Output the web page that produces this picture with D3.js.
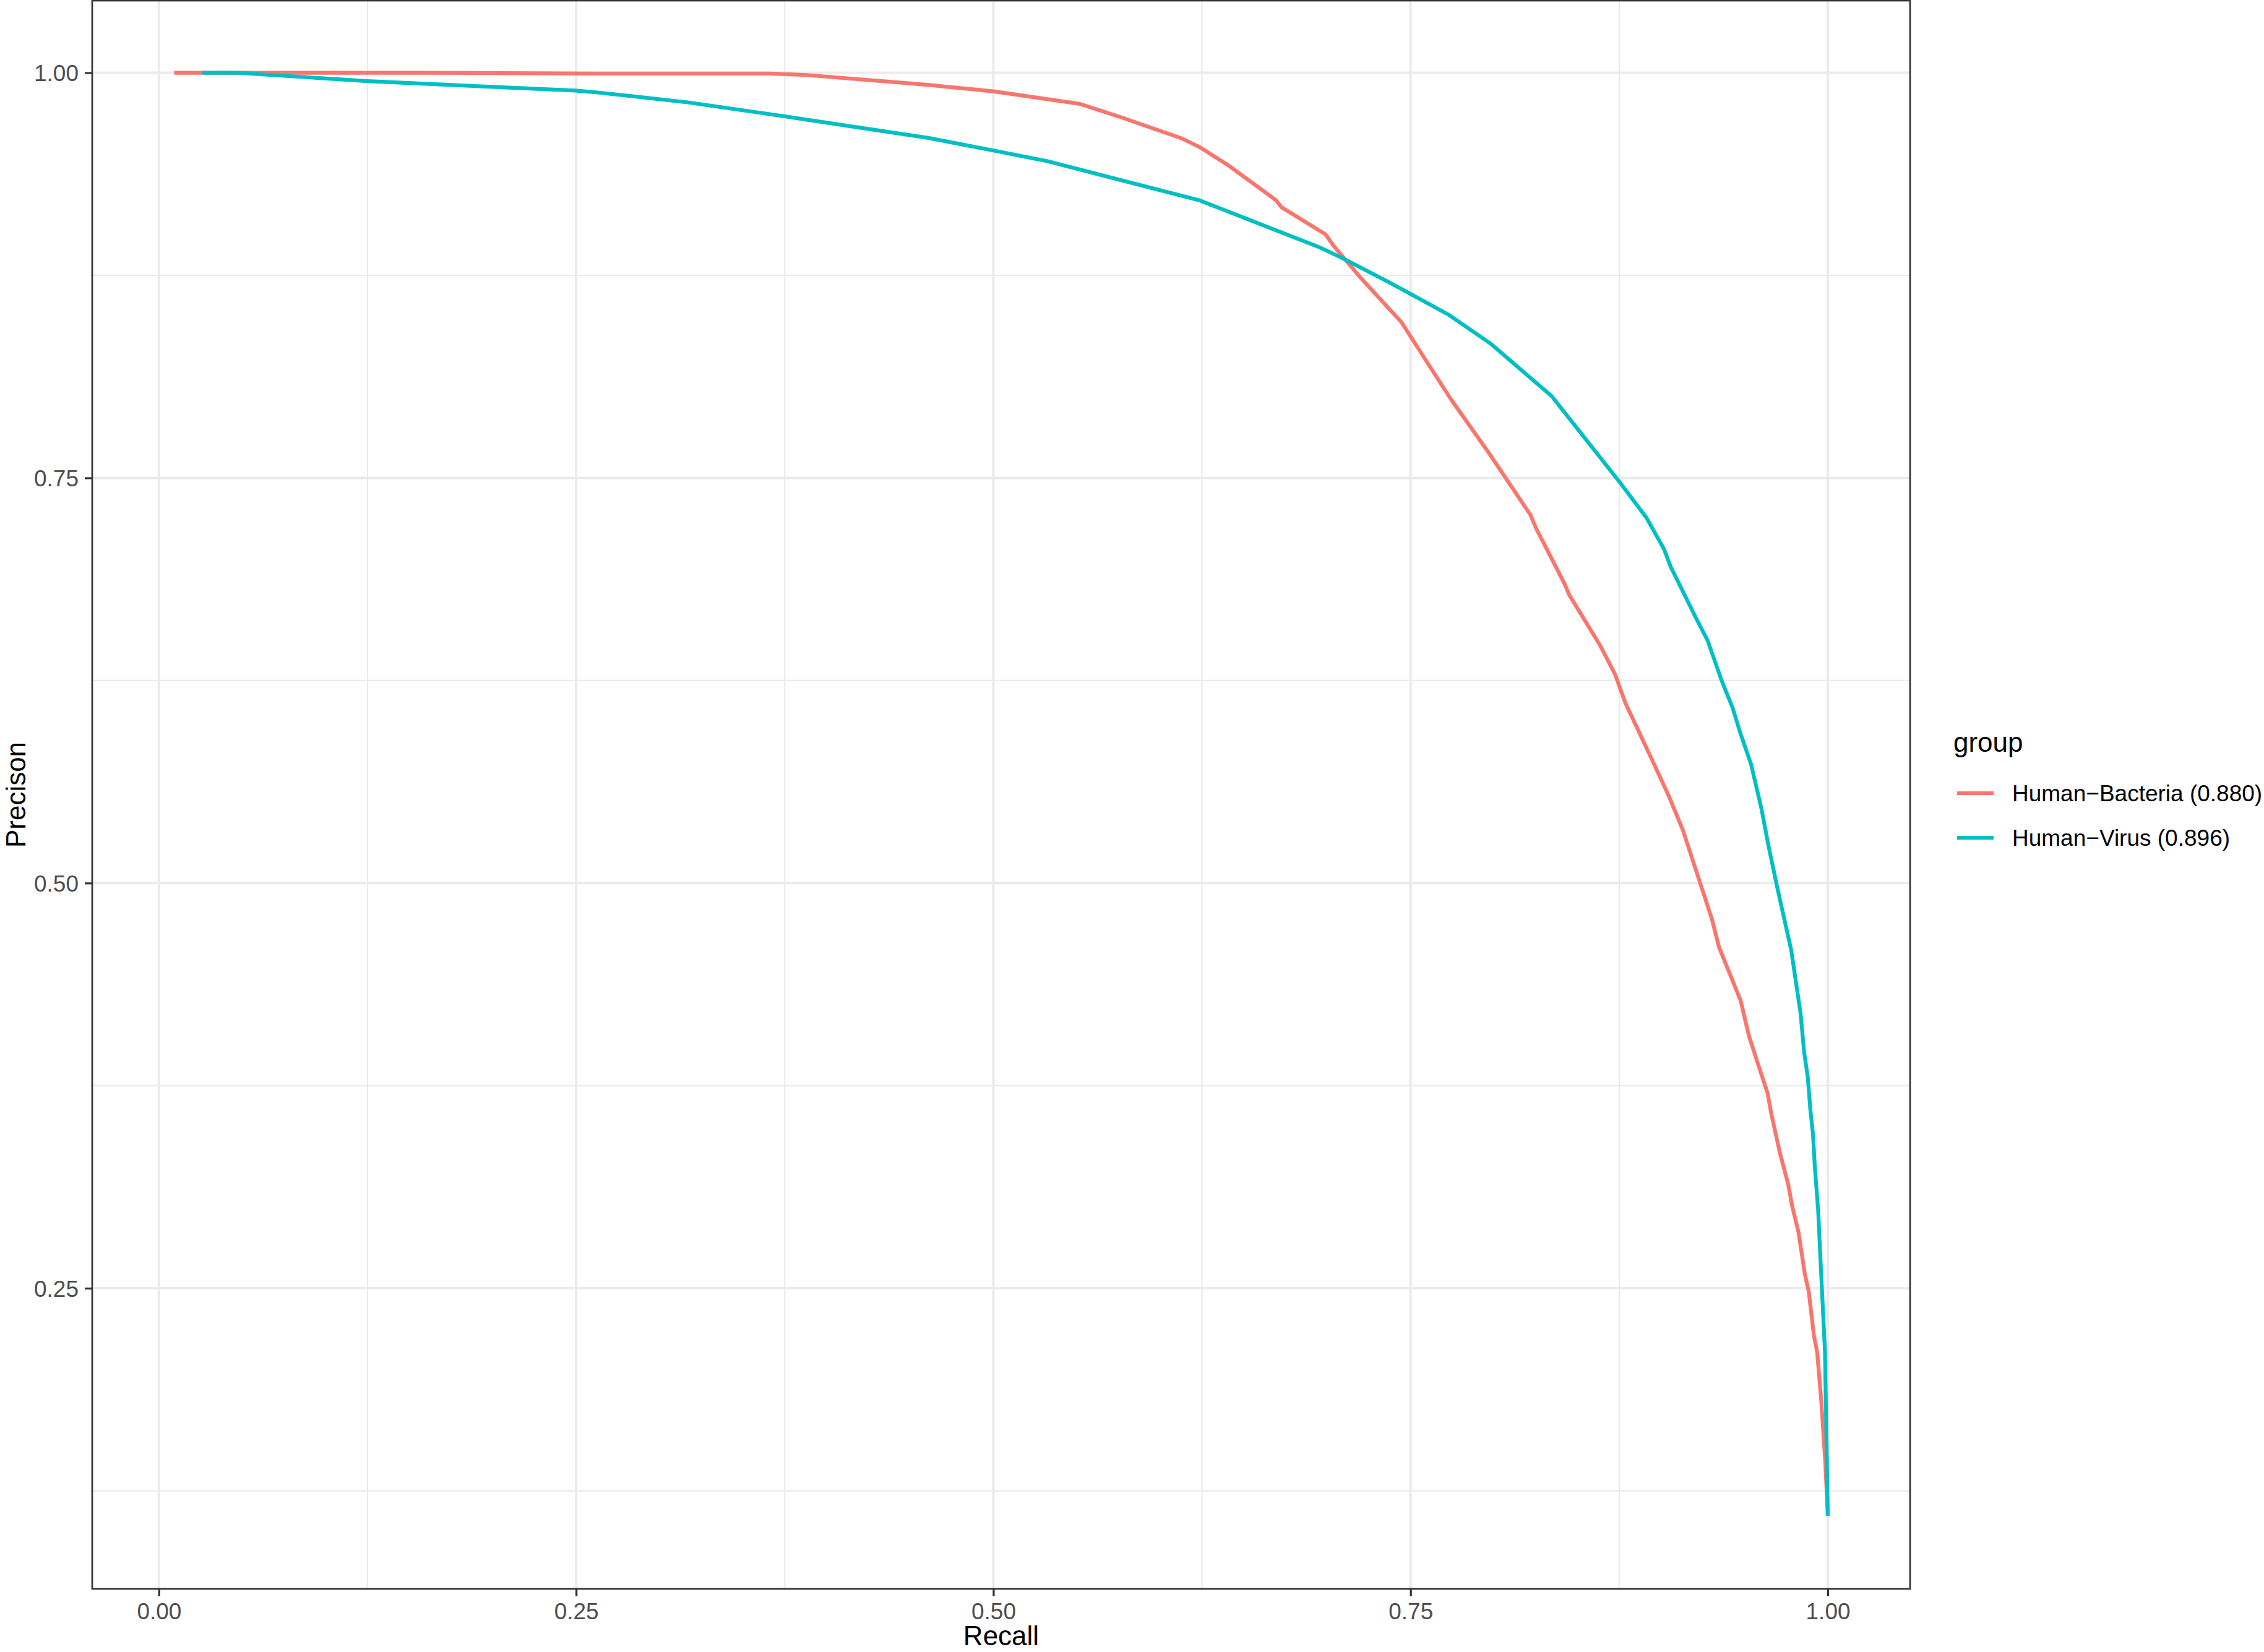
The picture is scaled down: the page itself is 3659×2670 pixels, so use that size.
<!DOCTYPE html>
<html>
<head>
<meta charset="utf-8">
<script src="https://cdn.jsdelivr.net/npm/d3@7"></script>
<style>
  html, body { margin: 0; padding: 0; background: #ffffff; }
  svg { display: block; }
  text { font-family: "Liberation Sans", Arial, Helvetica, sans-serif; }
</style>
</head>
<body>
<svg id="chart" width="3659" height="2670"></svg>
<script>
// ---- Data ----
const groups = ["Human\u2212Bacteria (0.880)", "Human\u2212Virus (0.896)"];
const groupColors = ["#F8766D", "#00BFC4"];

const bacteriaRecall = [0.0091, 0.16, 0.26, 0.366, 0.388, 0.4609, 0.5, 0.5518, 0.5766, 0.6131, 0.6238, 0.6412, 0.6693, 0.6726, 0.6991, 0.7041, 0.7203, 0.7444, 0.7742, 0.7969, 0.8217, 0.8253, 0.8423, 0.8451, 0.8636, 0.8725, 0.8786, 0.8959, 0.9046, 0.9132, 0.9206, 0.9305, 0.9348, 0.9478, 0.9527, 0.9589, 0.9639, 0.9663, 0.9713, 0.9763, 0.9787, 0.9824, 0.9861, 0.9886, 0.9917, 0.9936, 0.996, 0.9985, 1.0];
const bacteriaPrecision = [1.0, 1.0, 0.9995, 0.9995, 0.9986, 0.9925, 0.9885, 0.9808, 0.9725, 0.9594, 0.954, 0.9426, 0.9214, 0.917, 0.9002, 0.8929, 0.8732, 0.8462, 0.7985, 0.7654, 0.7274, 0.7187, 0.6846, 0.6778, 0.6466, 0.6289, 0.6114, 0.5734, 0.554, 0.5326, 0.5092, 0.478, 0.4605, 0.4274, 0.4059, 0.3861, 0.3705, 0.3569, 0.3335, 0.314, 0.3004, 0.2848, 0.2595, 0.2478, 0.2206, 0.2108, 0.1816, 0.1426, 0.1095];

const virusRecall = [0.026, 0.047, 0.125, 0.2495, 0.263, 0.317, 0.3756, 0.4609, 0.5, 0.532, 0.6231, 0.6961, 0.7092, 0.7373, 0.7728, 0.7983, 0.8345, 0.8749, 0.8913, 0.9019, 0.9058, 0.9213, 0.9281, 0.9367, 0.9429, 0.9478, 0.954, 0.9602, 0.9645, 0.9701, 0.9781, 0.9837, 0.9858, 0.988, 0.9895, 0.9911, 0.9923, 0.9942, 0.996, 0.9983, 1.0];
const virusPrecision = [1.0, 1.0, 0.9948, 0.989, 0.9878, 0.9817, 0.973, 0.9598, 0.952, 0.9455, 0.9214, 0.892, 0.8856, 0.8706, 0.8507, 0.8326, 0.8005, 0.7479, 0.7255, 0.706, 0.6953, 0.663, 0.6494, 0.6241, 0.6084, 0.5919, 0.5734, 0.5461, 0.5228, 0.4955, 0.4585, 0.4195, 0.3958, 0.3802, 0.3607, 0.3451, 0.3237, 0.2984, 0.2595, 0.2108, 0.1095];

const xMajorTicks = [0, 0.25, 0.5, 0.75, 1.0];
const xMinorTicks = [0.125, 0.375, 0.625, 0.875];
const yMajorTicks = [0.25, 0.5, 0.75, 1.0];
const yMinorTicks = [0.125, 0.375, 0.625, 0.875];
const xTickLabels = ["0.00", "0.25", "0.50", "0.75", "1.00"];
const yTickLabels = ["0.25", "0.50", "0.75", "1.00"];
const xTitle = "Recall";
const yTitle = "Precison";
const legendTitle = "group";

// ---- Layout ----
const panel = { left: 149, right: 3087, top: 1, bottom: 2568 };
const svg = d3.select("#chart");

const x = d3.scaleLinear().domain([-0.04, 1.0493]).range([panel.left, panel.right]);
const y = d3.scaleLinear().domain([0.0645, 1.0445]).range([panel.bottom, panel.top]);

// background
svg.append("rect").attr("x", 0).attr("y", 0).attr("width", 3659).attr("height", 2670).attr("fill", "#ffffff");

// grid
const grid = svg.append("g");
grid.selectAll(".xminor").data(xMinorTicks).join("line")
  .attr("x1", d => x(d)).attr("x2", d => x(d))
  .attr("y1", panel.top).attr("y2", panel.bottom)
  .attr("stroke", "#EBEBEB").attr("stroke-width", 2.2);
grid.selectAll(".yminor").data(yMinorTicks).join("line")
  .attr("y1", d => y(d)).attr("y2", d => y(d))
  .attr("x1", panel.left).attr("x2", panel.right)
  .attr("stroke", "#EBEBEB").attr("stroke-width", 2.2);
grid.selectAll(".xmajor").data(xMajorTicks).join("line")
  .attr("x1", d => x(d)).attr("x2", d => x(d))
  .attr("y1", panel.top).attr("y2", panel.bottom)
  .attr("stroke", "#EBEBEB").attr("stroke-width", 4);
grid.selectAll(".ymajor").data(yMajorTicks).join("line")
  .attr("y1", d => y(d)).attr("y2", d => y(d))
  .attr("x1", panel.left).attr("x2", panel.right)
  .attr("stroke", "#EBEBEB").attr("stroke-width", 4);

// lines
const series = [
  { name: groups[0], color: groupColors[0], pts: bacteriaRecall.map((r, i) => [r, bacteriaPrecision[i]]) },
  { name: groups[1], color: groupColors[1], pts: virusRecall.map((r, i) => [r, virusPrecision[i]]) }
];
const line = d3.line().x(d => x(d[0])).y(d => y(d[1]));
svg.append("g").selectAll("path").data(series).join("path")
  .attr("d", d => line(d.pts))
  .attr("fill", "none")
  .attr("stroke", d => d.color)
  .attr("stroke-width", 6.2)
  .attr("stroke-linejoin", "round")
  .attr("stroke-linecap", "butt");

// panel border
svg.append("rect")
  .attr("x", panel.left).attr("y", panel.top)
  .attr("width", panel.right - panel.left).attr("height", panel.bottom - panel.top)
  .attr("fill", "none").attr("stroke", "#333333").attr("stroke-width", 2.7);

// axes (ticks + labels) via d3 axes
const xAxis = d3.axisBottom(x).tickValues(xMajorTicks).tickSize(12).tickPadding(10)
  .tickFormat((d, i) => xTickLabels[i]);
const gx = svg.append("g").attr("transform", `translate(0,${panel.bottom})`).call(xAxis);
gx.select(".domain").remove();
gx.selectAll(".tick line").attr("stroke", "#333333").attr("stroke-width", 3.2);
gx.selectAll(".tick text").attr("fill", "#4D4D4D").attr("font-size", 37)
  .attr("font-family", "'Liberation Sans', Arial, sans-serif")
  .attr("dy", null).attr("y", 49);

const yAxis = d3.axisLeft(y).tickValues(yMajorTicks).tickSize(12).tickPadding(10)
  .tickFormat((d, i) => yTickLabels[i]);
const gy = svg.append("g").attr("transform", `translate(${panel.left},0)`).call(yAxis);
gy.select(".domain").remove();
gy.selectAll(".tick line").attr("stroke", "#333333").attr("stroke-width", 3.2);
gy.selectAll(".tick text").attr("fill", "#4D4D4D").attr("font-size", 37)
  .attr("font-family", "'Liberation Sans', Arial, sans-serif")
  .attr("dy", "0.35em").attr("x", -22);

// axis titles
svg.append("text").attr("x", (panel.left + panel.right) / 2).attr("y", 2659)
  .attr("text-anchor", "middle").attr("font-size", 44).attr("fill", "#000000").text(xTitle);
svg.append("text")
  .attr("transform", `translate(41,${(panel.top + panel.bottom) / 2}) rotate(-90)`)
  .attr("text-anchor", "middle").attr("font-size", 44).attr("fill", "#000000").text(yTitle);

// legend
const legend = svg.append("g");
legend.append("text").attr("x", 3157).attr("y", 1215).attr("font-size", 44).attr("fill", "#000000").text(legendTitle);
const keyYs = [1282, 1354];
const items = legend.selectAll(".item").data(series).join("g");
items.append("line")
  .attr("x1", 3163).attr("x2", 3222)
  .attr("y1", (d, i) => keyYs[i]).attr("y2", (d, i) => keyYs[i])
  .attr("stroke", d => d.color).attr("stroke-width", 6.2);
items.append("text")
  .attr("x", 3252).attr("y", (d, i) => keyYs[i]).attr("dy", "0.35em")
  .attr("font-size", 37).attr("fill", "#000000").text(d => d.name);
</script>
</body>
</html>
